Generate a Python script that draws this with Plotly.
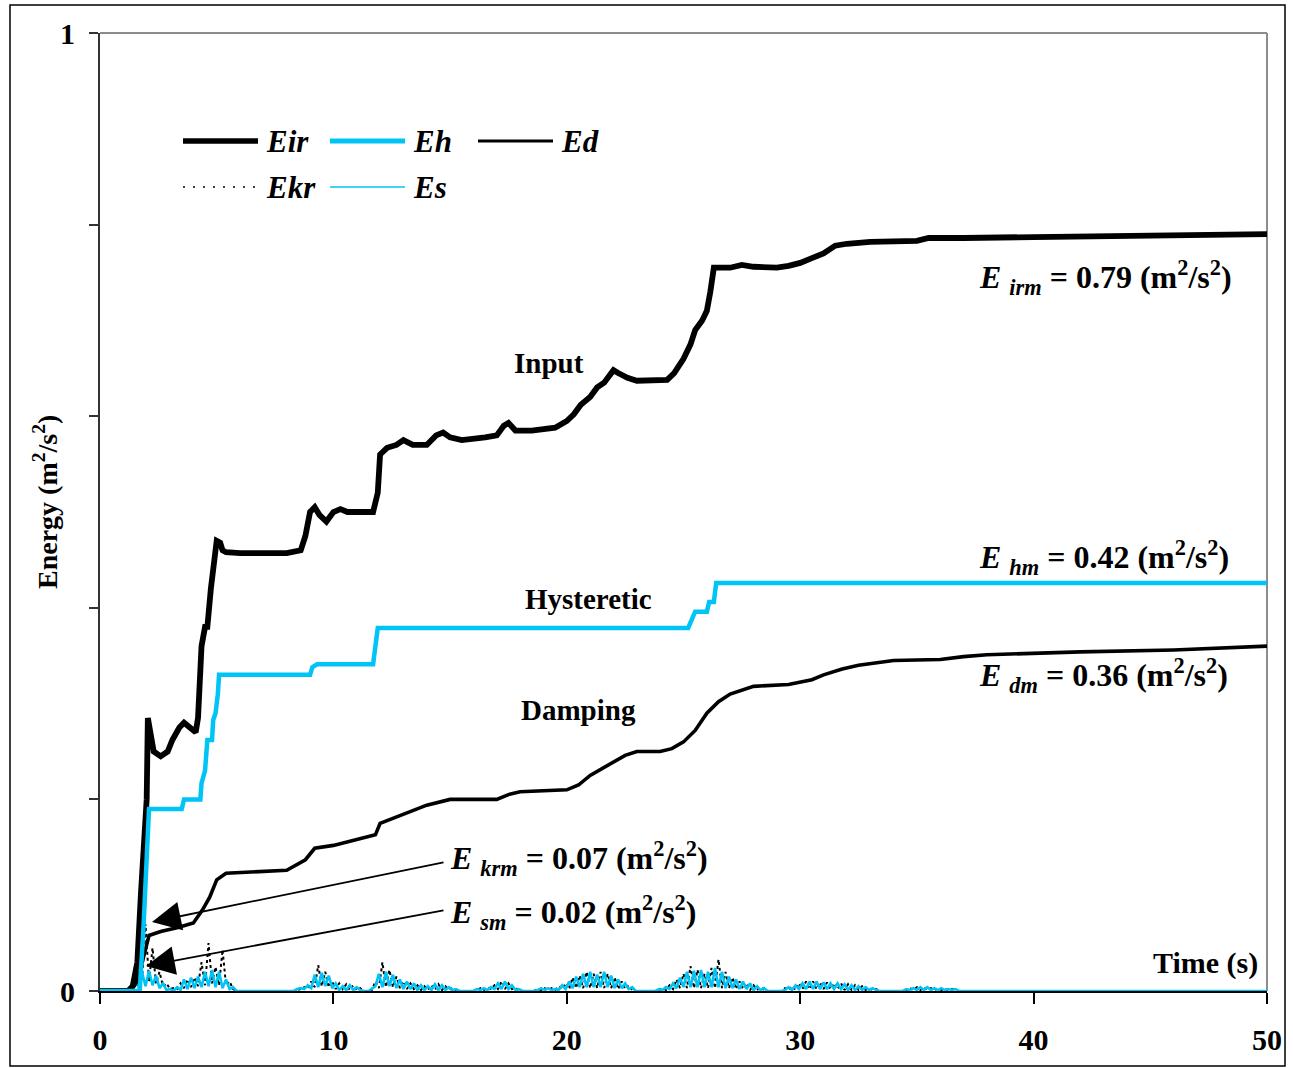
import numpy as np
import plotly.graph_objects as go

# ---------------- data ----------------
# Input energy Eir (time s, energy m2/s2)
eir_t = [0, 1.2, 1.4, 1.6, 1.75, 1.9, 2.0, 2.05, 2.15, 2.3, 2.6, 2.9, 3.1, 3.4, 3.6, 3.9, 4.1, 4.2, 4.35, 4.5,
         4.6, 4.75, 4.9, 5.0, 5.15, 5.25, 5.4, 6.0, 8.0, 8.4, 8.6, 8.8, 9.0, 9.2, 9.4, 9.7, 10.0, 10.3, 10.6, 11.7,
         11.9, 12.0, 12.3, 12.7, 13.0, 13.4, 14.0, 14.4, 14.7, 15.0, 15.5, 16.5, 17.0, 17.3, 17.5, 17.8, 18.5, 19.5,
         20.0, 20.3, 20.6, 21.0, 21.3, 21.6, 22.0, 22.2, 22.6, 23.0, 24.3, 24.6, 25.0, 25.3, 25.5, 25.8, 26.0, 26.15,
         26.3, 27.0, 27.5, 28.0, 29.0, 29.5, 30.0, 30.5, 31.0, 31.5, 32.0, 33.0, 35.0, 35.5, 36.5, 37.0, 40.0, 43.0,
         46.0, 50.0]
eir_v = [0, 0, 0.005, 0.03, 0.1, 0.17, 0.2, 0.285, 0.27, 0.25, 0.245, 0.25, 0.262, 0.275, 0.28, 0.275, 0.27, 0.285,
         0.36, 0.38, 0.38, 0.42, 0.46, 0.47, 0.468, 0.46, 0.458, 0.457, 0.457, 0.46, 0.46, 0.475, 0.5, 0.505, 0.497,
         0.49, 0.5, 0.503, 0.5, 0.5, 0.52, 0.56, 0.567, 0.57, 0.575, 0.57, 0.57, 0.58, 0.583, 0.578, 0.575, 0.578,
         0.58, 0.59, 0.593, 0.585, 0.585, 0.588, 0.595, 0.602, 0.612, 0.62, 0.63, 0.635, 0.648, 0.645, 0.64, 0.637,
         0.638, 0.645, 0.66, 0.675, 0.69, 0.7, 0.71, 0.73, 0.755, 0.755, 0.758, 0.756, 0.755, 0.757, 0.76, 0.765,
         0.77, 0.778, 0.78, 0.782, 0.783, 0.786, 0.787, 0.786, 0.787, 0.788, 0.789, 0.79]

# Hysteretic energy Eh
eh_t = [0, 1.7, 1.85, 2.0, 2.1, 3.5, 3.6, 4.3, 4.35, 4.5, 4.6, 4.8, 4.85, 4.95, 5.05, 5.1, 9.0, 9.1, 9.3, 11.7,
        11.8, 11.9, 25.2, 25.4, 25.5, 26.0, 26.1, 26.3, 26.4, 50.0]
eh_v = [0, 0, 0.06, 0.14, 0.19, 0.19, 0.2, 0.2, 0.217, 0.23, 0.262, 0.262, 0.283, 0.29, 0.31, 0.33, 0.33, 0.338,
        0.341, 0.341, 0.365, 0.379, 0.379, 0.39, 0.396, 0.396, 0.406, 0.406, 0.426, 0.426]

# Damping energy Ed
ed_t = [0, 1.3, 1.6, 1.8, 2.0, 2.1, 2.6, 3.3, 4.0, 4.4, 4.7, 5.0, 5.4, 6.2, 8.0, 8.8, 9.2, 10.0, 11.5, 11.8, 12.0,
        12.5, 13.0, 14.0, 15.0, 17.0, 17.5, 18.0, 20.0, 20.5, 21.0, 21.5, 22.0, 22.5, 23.0, 24.0, 24.5, 25.0, 25.5,
        26.0, 26.5, 27.0, 28.0, 29.5, 30.5, 31.0, 31.8, 32.5, 34.0, 36.0, 37.0, 38.0, 42.0, 46.0, 50.0]
ed_v = [0, 0, 0.01, 0.03, 0.05, 0.058, 0.062, 0.066, 0.071, 0.085, 0.098, 0.116, 0.123, 0.124, 0.126, 0.137, 0.149,
        0.152, 0.161, 0.163, 0.175, 0.18, 0.184, 0.194, 0.2, 0.2, 0.205, 0.208, 0.21, 0.215, 0.225, 0.232, 0.24,
        0.246, 0.25, 0.25, 0.253, 0.26, 0.272, 0.29, 0.302, 0.31, 0.318, 0.32, 0.325, 0.33, 0.336, 0.34, 0.345,
        0.346, 0.349, 0.351, 0.354, 0.356, 0.36]

# Kinetic (Ekr) and strain (Es) energy: sampled every 0.15 s inside each burst, zero elsewhere
osc_step = 0.15
burst_start = [1.2, 8.3, 11.5, 16.0, 18.6, 23.8, 29.2, 34.4]
es_bursts = [
    [0, 0.003, 0.012, 0.004, 0.02, 0.005, 0.021, 0.006, 0.016, 0.003, 0.008, 0.001, 0.002, 0.0, 0.004, 0.001,
     0.012, 0.002, 0.014, 0.003, 0.015, 0.004, 0.02, 0.005, 0.022, 0.004, 0.02, 0.003, 0.012, 0.002, 0.004, 0],
    [0, 0.002, 0.003, 0.002, 0.006, 0.003, 0.017, 0.004, 0.019, 0.005, 0.016, 0.003, 0.008, 0.001, 0.005, 0.001,
     0.006, 0.001, 0.004, 0.001, 0],
    [0, 0.003, 0.005, 0.018, 0.004, 0.02, 0.005, 0.017, 0.003, 0.012, 0.002, 0.01, 0.002, 0.008, 0.001, 0.006,
     0.001, 0.005, 0.001, 0.007, 0.001, 0.006, 0.001, 0.004, 0.001, 0.002, 0],
    [0, 0.002, 0.001, 0.003, 0.001, 0.004, 0.002, 0.008, 0.002, 0.01, 0.002, 0.006, 0.001, 0.002, 0],
    [0, 0.001, 0.003, 0.001, 0.003, 0.001, 0.002, 0.001, 0.006, 0.002, 0.01, 0.003, 0.015, 0.004, 0.018, 0.004,
     0.02, 0.004, 0.017, 0.004, 0.02, 0.004, 0.016, 0.003, 0.012, 0.003, 0.008, 0.002, 0.004, 0],
    [0, 0.002, 0.001, 0.004, 0.002, 0.008, 0.003, 0.014, 0.004, 0.02, 0.004, 0.021, 0.004, 0.022, 0.004, 0.02,
     0.004, 0.024, 0.004, 0.02, 0.003, 0.015, 0.003, 0.012, 0.002, 0.01, 0.002, 0.008, 0.001, 0.005, 0.001, 0.003, 0],
    [0, 0.001, 0.004, 0.001, 0.006, 0.002, 0.008, 0.002, 0.01, 0.002, 0.01, 0.002, 0.009, 0.002, 0.008, 0.002,
     0.008, 0.002, 0.007, 0.001, 0.006, 0.001, 0.005, 0.001, 0.004, 0.001, 0.003, 0.001, 0],
    [0, 0.002, 0.001, 0.003, 0.001, 0.004, 0.001, 0.004, 0.001, 0.003, 0.001, 0.003, 0.001, 0.002, 0.001, 0.002, 0],
]
ek_bursts = [
    [0, 0.005, 0.006, 0.03, 0.012, 0.07, 0.01, 0.045, 0.008, 0.02, 0.005, 0.008, 0.002, 0.003, 0.002, 0.008,
     0.003, 0.012, 0.004, 0.014, 0.005, 0.03, 0.006, 0.05, 0.008, 0.025, 0.006, 0.043, 0.006, 0.01, 0.002, 0],
    [0, 0.001, 0.002, 0.004, 0.002, 0.01, 0.004, 0.027, 0.005, 0.02, 0.004, 0.01, 0.002, 0.008, 0.002, 0.007,
     0.001, 0.006, 0.001, 0.003, 0],
    [0, 0.001, 0.01, 0.003, 0.03, 0.004, 0.022, 0.004, 0.015, 0.003, 0.01, 0.002, 0.008, 0.002, 0.006, 0.001,
     0.005, 0.001, 0.006, 0.001, 0.007, 0.001, 0.005, 0.001, 0.003, 0.001, 0],
    [0, 0.001, 0.003, 0.001, 0.004, 0.002, 0.006, 0.002, 0.01, 0.002, 0.008, 0.002, 0.003, 0.001, 0],
    [0, 0.002, 0.001, 0.003, 0.001, 0.003, 0.001, 0.005, 0.002, 0.008, 0.002, 0.014, 0.003, 0.016, 0.003, 0.02,
     0.003, 0.018, 0.003, 0.02, 0.003, 0.018, 0.003, 0.014, 0.002, 0.01, 0.002, 0.006, 0.001, 0],
    [0, 0.001, 0.003, 0.001, 0.006, 0.002, 0.012, 0.003, 0.018, 0.003, 0.026, 0.003, 0.022, 0.003, 0.018, 0.003,
     0.024, 0.003, 0.033, 0.003, 0.02, 0.003, 0.014, 0.002, 0.01, 0.002, 0.008, 0.001, 0.006, 0.001, 0.004, 0.001, 0],
    [0, 0.003, 0.001, 0.005, 0.001, 0.008, 0.002, 0.01, 0.002, 0.01, 0.002, 0.009, 0.002, 0.009, 0.002, 0.008,
     0.002, 0.008, 0.001, 0.007, 0.001, 0.006, 0.001, 0.005, 0.001, 0.003, 0.001, 0.002, 0],
    [0, 0.001, 0.003, 0.001, 0.004, 0.001, 0.004, 0.001, 0.003, 0.001, 0.003, 0.001, 0.002, 0.001, 0.002, 0.001, 0],
]

x_ticks = [0, 10, 20, 30, 40, 50]
y_ticks = [0, 0.2, 0.4, 0.6, 0.8, 1.0]
y_ticktext = ["0", "", "", "", "", "1"]


def build_osc(bursts):
    t = [0.0]
    v = [0.0]
    for s, vals in zip(burst_start, bursts):
        t += [round(s + i * osc_step, 3) for i in range(len(vals))]
        v += list(vals)
    t.append(50.0)
    v.append(0.0)
    return t, v


es_t, es_v = build_osc(es_bursts)
ek_t, ek_v = build_osc(ek_bursts)

# ---------------- style ----------------
CYAN = "#00C4F5"
FONT = "Liberation Serif"
W, H = 1293, 1068
L, R, T, B = 100, 1267, 33, 991


def px(x):
    return (x - L) / (R - L)


def py(y):
    return (B - y) / (B - T)


fig = go.Figure()
fig.add_trace(go.Scatter(x=ek_t, y=ek_v, mode="lines", name="Ekr",
                         line=dict(color="black", width=2, dash="dot")))
fig.add_trace(go.Scatter(x=es_t, y=es_v, mode="lines", name="Es",
                         line=dict(color=CYAN, width=2.6)))
fig.add_trace(go.Scatter(x=ed_t, y=ed_v, mode="lines", name="Ed",
                         line=dict(color="black", width=3.6)))
fig.add_trace(go.Scatter(x=eir_t, y=eir_v, mode="lines", name="Eir",
                         line=dict(color="black", width=5.8)))
fig.add_trace(go.Scatter(x=eh_t, y=eh_v, mode="lines", name="Eh",
                         line=dict(color=CYAN, width=4.5)))

shapes = []
# plot-area border (top & right in gray)
shapes.append(dict(type="line", xref="paper", yref="paper", x0=0, x1=1, y0=1, y1=1,
                   line=dict(color="#8c8c8c", width=2), layer="below"))
shapes.append(dict(type="line", xref="paper", yref="paper", x0=1, x1=1, y0=0, y1=1,
                   line=dict(color="#8c8c8c", width=2), layer="below"))
# outer frame
shapes.append(dict(type="rect", xref="paper", yref="paper", x0=px(10), x1=px(1285), y0=py(5), y1=py(1066),
                   line=dict(color="black", width=1.5), fillcolor="rgba(0,0,0,0)"))

# custom legend
legend_items = [
    ("Eir", 183, 141, dict(color="black", width=5.5)),
    ("Eh", 330, 141, dict(color=CYAN, width=5)),
    ("Ed", 478, 141, dict(color="black", width=3)),
    ("Ekr", 183, 187, dict(color="black", width=1.5, dash="2px,8px")),
    ("Es", 330, 187, dict(color=CYAN, width=1.5)),
]
annotations = []
for name, x0, y0, ln in legend_items:
    shapes.append(dict(type="line", xref="paper", yref="paper", x0=px(x0), x1=px(x0 + 75),
                       y0=py(y0), y1=py(y0), line=ln))
    annotations.append(dict(xref="paper", yref="paper", x=px(x0 + 81), y=py(y0), text=f"<b><i>{name}</i></b>",
                            showarrow=False, xanchor="left", yanchor="middle",
                            font=dict(family=FONT, size=31, color="black")))

lab_font = dict(family=FONT, size=29, color="black")
for txt, x, y in [("Input", 549, 363), ("Hysteretic", 588, 599), ("Damping", 578, 710)]:
    annotations.append(dict(xref="paper", yref="paper", x=px(x), y=py(y), text=f"<b>{txt}</b>",
                            showarrow=False, xanchor="center", yanchor="middle", font=lab_font))

annotations.append(dict(xref="paper", yref="paper", x=px(1260), y=py(963), text="<b>Time (s)</b>",
                        showarrow=False, xanchor="right", yanchor="middle",
                        font=dict(family=FONT, size=30, color="black")))

ann_font = dict(family=FONT, size=32, color="black")


def etext(sub, val):
    return (f"<b><i>E</i> <sub><i>{sub}</i></sub> = {val} (m<sup>2</sup>/s<sup>2</sup>)</b>")


for sub, val, y in [("irm", "0.79", 278), ("hm", "0.42", 557), ("dm", "0.36", 675)]:
    annotations.append(dict(xref="paper", yref="paper", x=px(977), y=py(y), text=etext(sub, val),
                            showarrow=False, xanchor="left", yanchor="middle", font=ann_font))
for sub, val, y in [("krm", "0.07", 858), ("sm", "0.02", 912)]:
    annotations.append(dict(xref="paper", yref="paper", x=px(448), y=py(y), text=etext(sub, val),
                            showarrow=False, xanchor="left", yanchor="middle", font=ann_font))

# arrows
for (tx, ty), (hx, hy) in [((445, 862), (152, 922)), ((445, 910), (146, 966))]:
    annotations.append(dict(xref="x domain", yref="y domain", x=px(hx), y=py(hy),
                            axref="x domain", ayref="y domain", ax=px(tx), ay=py(ty), text="",
                            showarrow=True, arrowhead=2, arrowsize=3.2, arrowwidth=1.8, arrowcolor="black"))

# y-axis title
annotations.append(dict(xref="paper", yref="paper", x=px(45), y=py(502),
                        text="<b>Energy (m<sup>2</sup>/s<sup>2</sup>)</b>", textangle=-90,
                        showarrow=False, xanchor="center", yanchor="middle",
                        font=dict(family=FONT, size=28, color="black")))

fig.update_layout(
    width=W, height=H,
    margin=dict(l=L, r=W - R, t=T, b=H - B, autoexpand=False),
    paper_bgcolor="white", plot_bgcolor="white",
    showlegend=False,
    shapes=shapes, annotations=annotations,
    xaxis=dict(range=[0, 50], tickvals=x_ticks, ticktext=[f"<b>{v}</b>" for v in x_ticks],
               showgrid=False, zeroline=False, showline=True, linecolor="black", linewidth=2,
               ticks="outside", ticklen=11, tickwidth=2, tickcolor="black", automargin=False,
               tickfont=dict(family=FONT, size=30, color="black"), ticklabelstandoff=10),
    yaxis=dict(range=[0, 1], tickvals=y_ticks, ticktext=[f"<b>{t}</b>" if t else "" for t in y_ticktext],
               showgrid=False, zeroline=False, showline=True, linecolor="#333333", linewidth=2,
               ticks="outside", ticklen=9, tickwidth=1.5, tickcolor="#333333", automargin=False,
               tickfont=dict(family=FONT, size=30, color="black"), ticklabelstandoff=8),
)

fig.write_html("out.html")
